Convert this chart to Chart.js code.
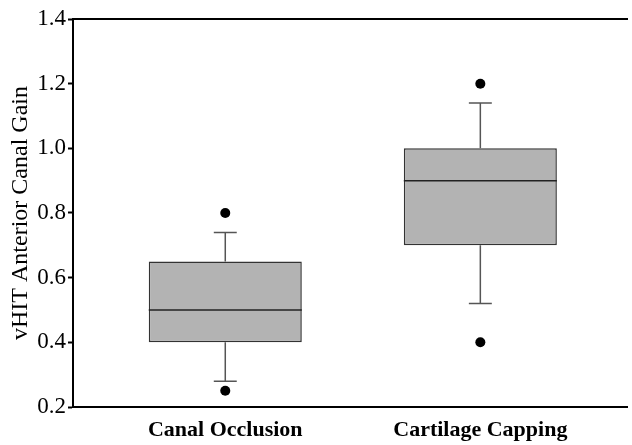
<!DOCTYPE html>
<html>
<head>
<meta charset="utf-8">
<script src="https://cdn.jsdelivr.net/npm/chart.js@4"></script>
<style>
    html, body { margin: 0; padding: 0; background: #fff; }
    #wrap { width: 632px; height: 445px; }
</style>
</head>
<body>
<div id="wrap"><canvas id="box-chart"></canvas></div>
<script>
// Box plot values
const categories = ['Canal Occlusion', 'Cartilage Capping'];
const q1 = [0.40, 0.70];
const median = [0.50, 0.90];
const q3 = [0.65, 1.00];
const whiskerLow = [0.28, 0.52];
const whiskerHigh = [0.74, 1.14];
const outliers = [[0.25, 0.80], [0.40, 1.20]];
const yTicks = [0.2, 0.4, 0.6, 0.8, 1.0, 1.2, 1.4];

const serif = '"Liberation Serif", "Times New Roman", serif';

// whiskers, caps and median lines, placed through the chart scales
const boxExtras = {
    id: 'boxExtras',
    afterDatasetsDraw(chart) {
        const ctx = chart.ctx;
        const y = chart.scales.y;
        const bars = chart.getDatasetMeta(0).data;
        ctx.save();
        bars.forEach((bar, i) => {
            const x = bar.x;
            const half = bar.width / 2;
            const cap = bar.width * 0.075;
            // whiskers
            ctx.strokeStyle = '#555';
            ctx.lineWidth = 1.5;
            ctx.beginPath();
            ctx.moveTo(x, y.getPixelForValue(q3[i]));
            ctx.lineTo(x, y.getPixelForValue(whiskerHigh[i]));
            ctx.moveTo(x - cap, y.getPixelForValue(whiskerHigh[i]));
            ctx.lineTo(x + cap, y.getPixelForValue(whiskerHigh[i]));
            ctx.moveTo(x, y.getPixelForValue(q1[i]));
            ctx.lineTo(x, y.getPixelForValue(whiskerLow[i]));
            ctx.moveTo(x - cap, y.getPixelForValue(whiskerLow[i]));
            ctx.lineTo(x + cap, y.getPixelForValue(whiskerLow[i]));
            ctx.stroke();
            // median
            ctx.strokeStyle = '#222';
            ctx.beginPath();
            ctx.moveTo(x - half, y.getPixelForValue(median[i]));
            ctx.lineTo(x + half, y.getPixelForValue(median[i]));
            ctx.stroke();
        });
        ctx.restore();
    }
};

const boxData = categories.map((c, i) => ({ x: i + 1, y: [q1[i], q3[i]] }));
const outlierData = [];
outliers.forEach((vals, i) => vals.forEach(v => outlierData.push({ x: i + 1, y: v })));

new Chart(document.getElementById('box-chart'), {
    type: 'bar',
    data: {
        datasets: [{
            type: 'bar',
            data: boxData,
            backgroundColor: '#b3b3b3',
            borderColor: '#333',
            borderWidth: 1.5,
            borderSkipped: false,
            barPercentage: 0.6,
            categoryPercentage: 1
        }, {
            type: 'scatter',
            data: outlierData,
            pointRadius: 5,
            pointBackgroundColor: '#000',
            pointBorderWidth: 0
        }]
    },
    options: {
        responsive: true,
        maintainAspectRatio: false,
        animation: false,
        layout: { padding: { top: 19, right: 0, left: 0, bottom: 0 } },
        plugins: {
            legend: { display: false },
            tooltip: { enabled: false }
        },
        scales: {
            x: {
                type: 'linear',
                position: 'bottom',
                offset: false,
                min: 0.403,
                max: 2.575,
                afterBuildTicks: (scale) => {
                    scale.ticks = categories.map((c, i) => ({ value: i + 1 }));
                },
                afterFit: (scale) => { scale.height = 38; },
                grid: { drawOnChartArea: false, drawTicks: false, offset: false },
                border: { display: true, color: '#000', width: 2 },
                ticks: {
                    padding: 10,
                    color: '#000',
                    maxRotation: 0,
                    autoSkip: false,
                    font: { family: serif, size: 22, weight: 'bold' },
                    callback: (v) => categories[v - 1]
                }
            },
            xTop: {
                type: 'linear',
                position: 'top',
                min: 0,
                max: 1,
                afterFit: (scale) => { scale.height = 0; },
                grid: { drawOnChartArea: false, drawTicks: false },
                border: { display: true, color: '#000', width: 2 },
                ticks: { display: false }
            },
            y: {
                min: 0.2,
                max: 1.4,
                afterBuildTicks: (scale) => {
                    scale.ticks = yTicks.map(v => ({ value: v }));
                },
                afterFit: (scale) => { scale.width = 73; },
                grid: {
                    drawOnChartArea: false,
                    tickLength: 5,
                    tickWidth: 2,
                    tickColor: '#000'
                },
                border: { display: true, color: '#000', width: 2 },
                ticks: {
                    padding: 2,
                    color: '#000',
                    font: { family: serif, size: 23 },
                    callback: (v) => v.toFixed(1)
                },
                title: {
                    display: true,
                    text: 'vHIT Anterior Canal Gain',
                    color: '#000',
                    padding: { top: 6, bottom: 0 },
                    font: { family: serif, size: 24 }
                }
            }
        }
    },
    plugins: [boxExtras]
});
</script>
</body>
</html>
